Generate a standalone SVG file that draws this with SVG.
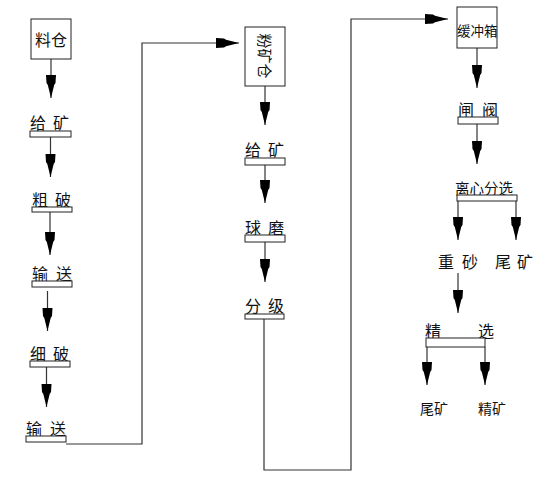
<svg xmlns="http://www.w3.org/2000/svg" width="548" height="500" viewBox="0 0 548 500">
<style>
.box{fill:#fff;stroke:#222;stroke-width:1}
.bar{fill:#fff;stroke:#222;stroke-width:1}
.ln{fill:none;stroke:#333;stroke-width:1.2}
.t{font-family:"Noto Sans CJK SC","Noto Sans CJK JP",sans-serif;font-size:16px;fill:#111}
</style>
<defs>
<marker id="ah" markerUnits="userSpaceOnUse" markerWidth="24" markerHeight="12" viewBox="0 -6 24 12" refX="23" refY="0" orient="auto">
<path d="M0,-5 L8,-4.5 L10,-3.2 L23,0 L10,3.2 L8,4.5 L0,5 Z" fill="#000"/>
</marker>
</defs>
<rect width="548" height="500" fill="#fff"/>
<g id="connectors">
<line class="ln" x1="51" y1="59" x2="51" y2="98" marker-end="url(#ah)"/>
<line class="ln" x1="50.5" y1="137" x2="50.5" y2="177" marker-end="url(#ah)"/>
<line class="ln" x1="50" y1="212" x2="50" y2="255" marker-end="url(#ah)"/>
<line class="ln" x1="47.5" y1="291" x2="47.5" y2="331" marker-end="url(#ah)"/>
<line class="ln" x1="46.5" y1="367" x2="46.5" y2="407" marker-end="url(#ah)"/>
<polyline class="ln" points="66,444 142,444 142,43 239,43" marker-end="url(#ah)"/>
<line class="ln" x1="265" y1="86" x2="265" y2="125" marker-end="url(#ah)"/>
<line class="ln" x1="265" y1="165" x2="265" y2="203" marker-end="url(#ah)"/>
<line class="ln" x1="265" y1="242" x2="265" y2="282" marker-end="url(#ah)"/>
<polyline class="ln" points="264,319 264,470 351,470 351,19 448,19" marker-end="url(#ah)"/>
<line class="ln" x1="477" y1="48" x2="477" y2="88" marker-end="url(#ah)"/>
<line class="ln" x1="477" y1="124" x2="477" y2="164" marker-end="url(#ah)"/>
<line class="ln" x1="458" y1="201" x2="458" y2="240" marker-end="url(#ah)"/>
<line class="ln" x1="516" y1="201" x2="516" y2="240" marker-end="url(#ah)"/>
<line class="ln" x1="458" y1="273" x2="458" y2="313" marker-end="url(#ah)"/>
<line class="ln" x1="427" y1="347" x2="427" y2="385" marker-end="url(#ah)"/>
<line class="ln" x1="485" y1="347" x2="485" y2="385" marker-end="url(#ah)"/>
</g>
<g id="n_liaocang"><rect class="box" x="31" y="19" width="40" height="40"/><text class="t" x="35" y="46">料仓</text></g>
<g id="n_geikuang1"><text class="t" x="30 53" y="129">给矿</text><rect class="bar" x="30" y="131" width="41" height="6"/></g>
<g id="n_cupo"><text class="t" x="32 55" y="206">粗破</text><rect class="bar" x="32" y="207" width="40" height="5"/></g>
<g id="n_shusong1"><text class="t" x="32 56" y="280">输送</text><rect class="bar" x="32" y="281" width="40" height="6"/></g>
<g id="n_xipo"><text class="t" x="30 53" y="360">细破</text><rect class="bar" x="30" y="361" width="40" height="6"/></g>
<g id="n_shusong2"><text class="t" x="26 50" y="435">输送</text><rect class="bar" x="26" y="436" width="40" height="6"/></g>
<g id="n_fenkuangcang"><rect class="box" x="245" y="27" width="40" height="59"/><text class="t" x="0" y="0" text-anchor="middle" dominant-baseline="central" transform="translate(265,56) rotate(90)" style="font-size:15px">粉矿仓</text></g>
<g id="n_geikuang2"><text class="t" x="245 268" y="156">给矿</text><rect class="bar" x="245" y="158" width="40" height="7"/></g>
<g id="n_qiumo"><text class="t" x="245 268" y="234">球磨</text><rect class="bar" x="245" y="235" width="40" height="7"/></g>
<g id="n_fenji"><text class="t" x="245 268" y="312">分级</text><rect class="bar" x="245" y="314" width="39" height="5"/></g>
<g id="n_huanchongxiang"><rect class="box" x="457" y="7" width="40" height="41"/><text class="t" x="457" y="36" style="font-size:13.5px">缓冲箱</text></g>
<g id="n_zhafa"><text class="t" x="458 482" y="116">闸阀</text><rect class="bar" x="458" y="117" width="40" height="7"/></g>
<g id="n_lixinfenxuan"><text class="t" x="455" y="194" style="font-size:14.5px">离心分选</text><rect class="bar" x="457" y="195" width="60" height="6"/></g>
<g id="n_zhongsha"><text class="t" x="438 462" y="268">重砂</text></g>
<g id="n_weikuang1"><text class="t" x="495 517" y="268">尾矿</text></g>
<g id="n_jingxuan"><text class="t" x="425 478" y="337">精选</text><rect class="bar" x="426" y="338" width="59" height="9"/></g>
<g id="n_weikuang2"><text class="t" x="420" y="414" style="font-size:14px">尾矿</text></g>
<g id="n_jingkuang"><text class="t" x="478" y="414" style="font-size:14px">精矿</text></g>
</svg>
